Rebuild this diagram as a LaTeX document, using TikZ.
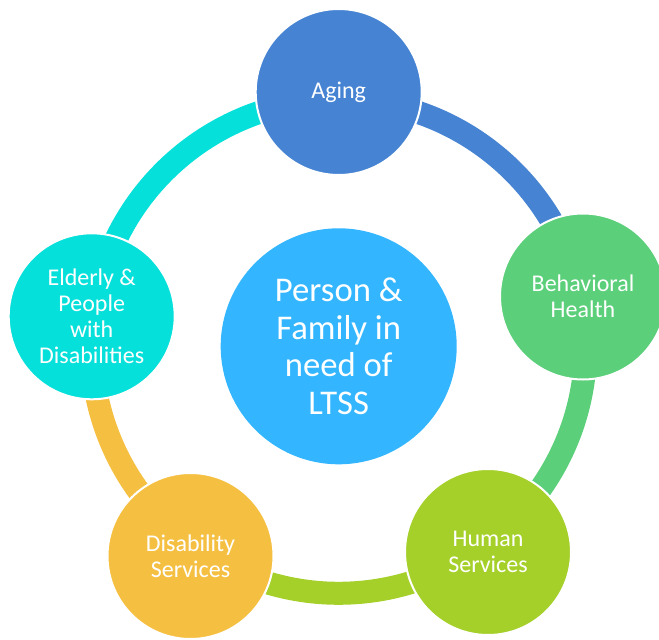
\documentclass[tikz,border=0pt]{standalone}
\usepackage{fontspec}
\setmainfont{Carlito}
\definecolor{agingblue}{HTML}{4684D3}
\definecolor{behavgreen}{HTML}{5BCF7A}
\definecolor{humanlime}{HTML}{A5D02A}
\definecolor{disabgold}{HTML}{F5C042}
\definecolor{eldercyan}{HTML}{06E0DA}
\definecolor{corecyan}{HTML}{33B6FF}
\begin{document}
\begin{tikzpicture}[x=0.75pt, y=0.75pt,
    petal/.style={circle, draw=white, line width=1.5pt, minimum size=124.5pt, inner sep=0pt,
        text=white, align=center, font=\fontsize{18}{19.5}\selectfont},
    band/.style={line width=17.25pt}]
    \useasboundingbox (0,0) rectangle (659,639);
    \coordinate (hub) at (338.7,292.7);
    % ring pieces, each in the colour of the circle it leaves
    \draw[band, agingblue] (hub) ++(90:247) arc[start angle=90, end angle=11.5, radius=247];
    \draw[band, behavgreen] (hub) ++(11.5:247) arc[start angle=11.5, end angle=-54, radius=247];
    \draw[band, humanlime] (hub) ++(-54:247) arc[start angle=-54, end angle=-125.2, radius=247];
    \draw[band, disabgold] (hub) ++(-125.2:247) arc[start angle=-125.2, end angle=-186.9, radius=247];
    \draw[band, eldercyan] (hub) ++(173.1:247) arc[start angle=173.1, end angle=90, radius=247];
    % circles
    \node[petal, fill=agingblue] (aging) at (338.7,547) {Aging};
    \node[petal, fill=behavgreen] (behav) at (583,342.5) {Behavioral\\Health};
    \node[petal, fill=humanlime] (human) at (488,87) {Human\\Services};
    \node[petal, fill=disabgold] (disab) at (190.5,83) {Disability\\Services};
    \node[petal, fill=eldercyan] (elder) at (91.7,322.7) {Elderly \&\\People\\with\\Disabilities};
    \node[circle, fill=corecyan, minimum size=177pt, inner sep=0pt, text=white, align=center,
        font=\fontsize{26}{28.3}\selectfont] (core) at (hub) {Person \&\\Family in\\need of\\LTSS};
\end{tikzpicture}
\end{document}
